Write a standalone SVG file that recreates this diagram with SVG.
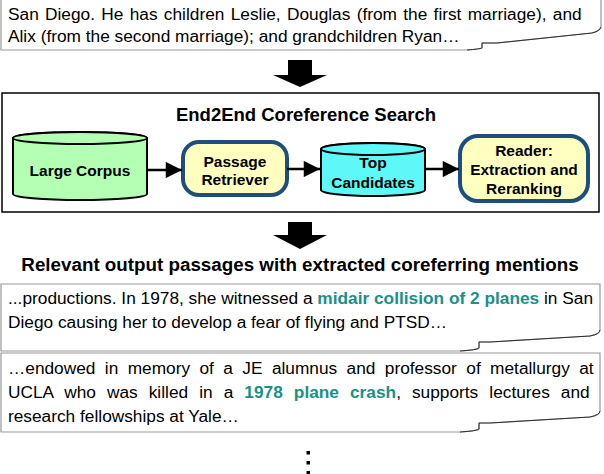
<svg xmlns="http://www.w3.org/2000/svg" width="604" height="474" viewBox="0 0 604 474">
<style>
.txt{font-family:"Liberation Sans",Arial,Helvetica,sans-serif;font-size:17.3px;fill:#000}
.hl{font-weight:bold;fill:#1a9088}
.bub{fill:#fff;stroke:#999;stroke-width:1.2}
.tail{fill:none;stroke:#222;stroke-width:0.9}
.lbl{font-family:"Liberation Sans",Arial,Helvetica,sans-serif;font-size:15.5px;font-weight:bold;fill:#000;text-anchor:middle}
.title{font-family:"Liberation Sans",Arial,Helvetica,sans-serif;font-weight:bold;fill:#000;text-anchor:middle}
.cyl{stroke:#000;stroke-width:2}
.rr{fill:#ffffc0;stroke:#1d4f7e;stroke-width:4}
.conn{stroke:#000;stroke-width:2.5;fill:none}
.big{fill:#000}
</style>
<defs>
<marker id="ah" viewBox="0 0 10 10" refX="10" refY="5" markerWidth="7" markerHeight="6.5" markerUnits="strokeWidth" orient="auto">
<path d="M0,0 L10,5 L0,10 Z" fill="#000"/>
</marker>
</defs>
<rect width="604" height="474" fill="#fff"/>

<g id="top-bubble">
<rect x="508" y="-4" width="13" height="7" rx="2" fill="#666"/>
<rect x="554" y="-4" width="13" height="7" rx="2" fill="#666"/>
<path class="bub" d="M1,-2 V50 H467 Q480,49 482,48 V43 H497 L592,33 Q600,31 601,27 V-2"/>
<path class="tail" d="M467,50 Q480,49 482,48 V43 H497 M497,43 L592,33 Q600,31 601,27" />
<text class="txt" x="8" y="20" word-spacing="1.5">San Diego. He has children Leslie, Douglas (from the first marriage), and</text>
<text class="txt" x="8" y="42">Alix (from the second marriage); and grandchildren Ryan…</text>
</g>

<g id="arrow-down-1">
<path class="big" d="M288,60 H312 V75 H327 L300,87 L273,75 H288 Z"/>
</g>

<g id="search-box">
<rect x="2" y="93" width="597" height="119" fill="#fff" stroke="#000" stroke-width="1.5"/>
<text class="title" x="306" y="121" font-size="18.5">End2End Coreference Search</text>
</g>

<g id="large-corpus">
<path class="cyl" fill="#b3ffb3" d="M13,138 V194 A67,6 0 0 0 147,194 V138 A67,6 0 0 0 13,138 Z"/>
<ellipse class="cyl" cx="80" cy="138" rx="67" ry="6" fill="#b3ffb3"/>
<text class="lbl" x="80" y="175.5">Large Corpus</text>
</g>

<g id="passage-retriever">
<rect class="rr" x="183" y="142" width="104" height="53" rx="16"/>
<text class="lbl" x="235" y="167">Passage</text>
<text class="lbl" x="235" y="185">Retriever</text>
</g>

<g id="top-candidates">
<path class="cyl" fill="#5ff8f8" d="M321,149 V190 A52,6 0 0 0 425,190 V149 A52,6 0 0 0 321,149 Z"/>
<ellipse class="cyl" cx="373" cy="149" rx="52" ry="6" fill="#5ff8f8"/>
<text class="lbl" x="373" y="168">Top</text>
<text class="lbl" x="373" y="188">Candidates</text>
</g>

<g id="reader">
<rect class="rr" x="460" y="136" width="128" height="65" rx="18"/>
<text class="lbl" x="524" y="156">Reader:</text>
<text class="lbl" x="524" y="174.5">Extraction and</text>
<text class="lbl" x="524" y="194">Reranking</text>
</g>

<g id="connectors">
<line class="conn" x1="147" y1="170" x2="182" y2="170" marker-end="url(#ah)"/>
<line class="conn" x1="287" y1="169" x2="320" y2="169" marker-end="url(#ah)"/>
<line class="conn" x1="425" y1="169" x2="459" y2="169" marker-end="url(#ah)"/>
</g>

<g id="arrow-down-2">
<path class="big" d="M288,222 H312 V235 H327 L300,249 L273,235 H288 Z"/>
</g>

<g id="output-title">
<text class="title" x="300" y="271" font-size="18.8">Relevant output passages with extracted coreferring mentions</text>
</g>

<g id="passage-1">
<path class="bub" d="M1,284 V351 H460 Q477,350 479,348 V342 H490 L590,336 Q600,334 600,330 V284 Z"/>
<path class="tail" d="M460,351 Q477,350 479,348 V342 H490 M490,342 L590,336 Q600,334 600,330"/>
<text class="txt" x="8" y="304">...productions. In 1978, she witnessed a <tspan class="hl">midair collision of 2 planes</tspan> in San</text>
<text class="txt" x="8" y="328">Diego causing her to develop a fear of flying and PTSD…</text>
</g>

<g id="passage-2">
<path class="bub" d="M1,353 V432 H460 Q477,431 479,429 V423 H490 L590,417 Q600,415 600,411 V353 Z"/>
<path class="tail" d="M460,432 Q477,431 479,429 V423 H490 M490,423 L590,417 Q600,415 600,411"/>
<text class="txt" x="8" y="374" word-spacing="4.6">…endowed in memory of a JE alumnus and professor of metallurgy at</text>
<text class="txt" x="8" y="398" word-spacing="6.25">UCLA who was killed in a <tspan class="hl">1978 plane crash</tspan>, supports lectures and</text>
<text class="txt" x="8" y="422">research fellowships at Yale…</text>
</g>

<g id="ellipsis-dots">
<rect x="306.5" y="451" width="3.5" height="3.5" fill="#000"/>
<rect x="306.5" y="461" width="3.5" height="3.5" fill="#000"/>
<rect x="306.5" y="471" width="3.5" height="3.5" fill="#000"/>
</g>
</svg>
